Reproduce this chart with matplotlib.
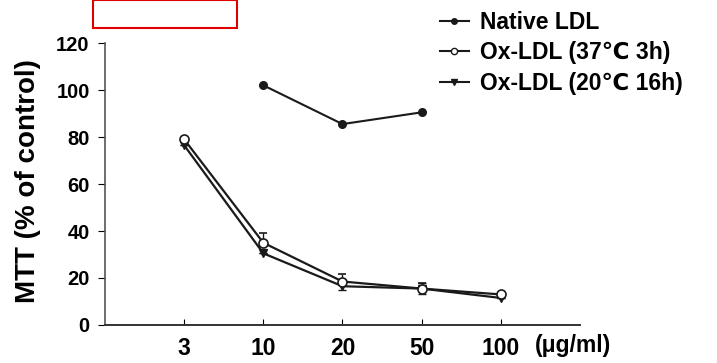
import matplotlib.pyplot as plt
from matplotlib.patches import Rectangle
from matplotlib.lines import Line2D

plt.rcParams['font.family'] = ['Liberation Sans', 'DejaVu Sans']
plt.rcParams['font.weight'] = 'bold'

# data
doses = ['3', '10', '20', '50', '100']
native_x = [2, 3, 4]
native = [102, 85.5, 90.5]
ox37 = [79, 35, 18.5, 15.5, 13]
ox37_err = [0, 4, 3, 2.5, 0]
ox20 = [76.5, 30.5, 16.5, 15.5, 11.5]
ox20_err = [0, 0, 1.5, 2.5, 0]
labels = ['Native LDL', 'Ox-LDL (37\u2103 3h)', 'Ox-LDL (20\u2103 16h)']

x = list(range(1, len(doses) + 1))
c = '#1a1a1a'

fig = plt.figure(figsize=(7.17, 3.63), dpi=100)
ax = fig.add_axes([0.1464, 0.1047, 0.6625, 0.7768])

ax.errorbar(x, ox37, yerr=[[0] * 5, ox37_err], color=c, lw=1.6,
            marker='o', ms=6.5, mfc='white', mec=c, mew=1.2,
            capsize=3, elinewidth=1, zorder=3)
ax.errorbar(x, ox20, yerr=[ox20_err, ox20_err], color=c, lw=1.6,
            marker='v', ms=6, mfc=c, mec=c,
            capsize=3, elinewidth=1, zorder=2)
ax.plot(native_x, native, color=c, lw=1.5, marker='o', ms=5.5, zorder=3)

ax.set_xlim(0, 6)
ax.set_ylim(0, 120)
ax.set_xticks(x)
ax.set_xticklabels(doses)
ax.set_yticks([0, 20, 40, 60, 80, 100, 120])
ax.tick_params(axis='x', direction='in', length=4, labelsize=16.5, pad=9)
ax.tick_params(axis='y', direction='out', length=5, labelsize=14.5, pad=6)
for lab in ax.get_xticklabels() + ax.get_yticklabels():
    lab.set_fontweight('bold')

for s in ['top', 'right']:
    ax.spines[s].set_visible(False)
ax.spines['left'].set_color('#555555')
ax.spines['bottom'].set_color('#333333')
ax.spines['left'].set_linewidth(1.2)
ax.spines['bottom'].set_linewidth(1.4)

ax.set_ylabel('MTT (% of control)', fontsize=20, fontweight='bold')
ax.yaxis.set_label_coords(-0.135, 0.51)

fig.text(0.746, 0.048, '(\u03bcg/ml)', fontsize=16.5, fontweight='bold', ha='left', va='center')

handles = [
    Line2D([], [], color=c, lw=1.5, marker='o', ms=4),
    Line2D([], [], color=c, lw=1.5, marker='o', ms=4.5, mfc='white', mec=c),
    Line2D([], [], color=c, lw=1.5, marker='v', ms=4.5),
]
leg = fig.legend(handles, labels, loc='upper left', bbox_to_anchor=(0.613, 0.97),
                 frameon=False, fontsize=16.5, handlelength=1.3, handletextpad=0.45,
                 labelspacing=0.33, borderpad=0, borderaxespad=0)
for t in leg.get_texts():
    t.set_fontweight('bold')

fig.add_artist(Rectangle((0.1297, 0.923), 0.2008, 0.077, transform=fig.transFigure,
                         fill=False, edgecolor='#e00000', lw=1.5))

fig.savefig('out.png', dpi=100)
